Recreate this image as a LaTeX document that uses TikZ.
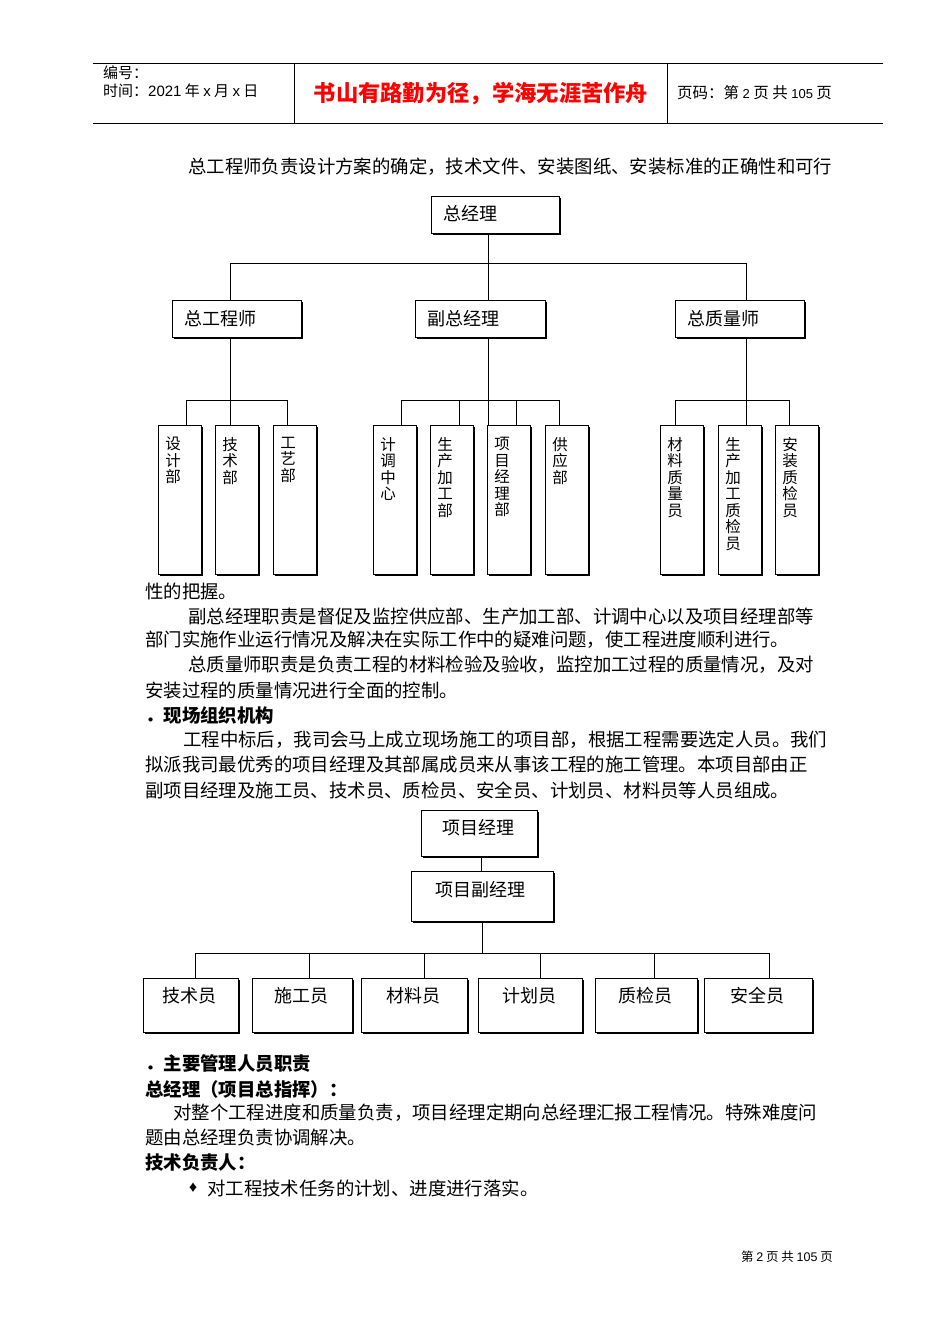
\documentclass[tikz,border=0pt]{standalone}
\usepackage{fontspec}
\setmainfont{Noto Sans CJK SC}
\newfontfamily\latinf{Liberation Sans}
\begin{document}
\begin{tikzpicture}[x=1pt,y=-1pt,
  txt/.style={anchor=west,inner sep=0,font=\fontsize{18.4}{20}\selectfont},
  btxt/.style={txt,font=\fontsize{18.4}{20}\selectfont\bfseries},
  lbl/.style={font=\fontsize{18}{20}\selectfont},
  vlbl/.style={font=\fontsize{15.5}{16.5}\selectfont,align=center,anchor=north,inner sep=0},
  ln/.style={line width=0.8pt}]
\useasboundingbox (0,0) rectangle (950,1344);
\newcommand{\obox}[5]{% name, x1,y1,x2,y2
  \draw[line width=1.4pt] (#2+1.5,#5+0.8) -- (#4+0.8,#5+0.8) -- (#4+0.8,#3+1.5);
  \draw[ln,fill=white] (#2,#3) rectangle (#4,#5);
  \coordinate (#1-n) at ({(#2+#4)/2},#3);
  \coordinate (#1-s) at ({(#2+#4)/2},#5);}
% header
\draw[line width=0.8pt] (93,63) -- (883,63) (93,123) -- (883,123) (294,63) -- (294,123) (667,63) -- (667,123);
\node[txt,font=\fontsize{15}{16}\selectfont] (h1) at (103,73) {编号：};
\node[txt,font=\fontsize{15}{16}\selectfont] (h2) at (103,91) {时间：{\latinf 2021} 年 {\latinf x} 月 {\latinf x} 日};
\node[inner sep=0,text=red,font=\fontsize{22.3}{23}\selectfont\bfseries] (h3) at (481,94) {书山有路勤为径，学海无涯苦作舟};
\node[txt,font=\fontsize{15.5}{16}\selectfont] (h4) at (677,93) {页码：第 {\latinf\fontsize{13}{14}\selectfont 2} 页 共 {\latinf\fontsize{13}{14}\selectfont 105} 页};
% text
\node[txt] (t1) at (188,167) {总工程师负责设计方案的确定，技术文件、安装图纸、安装标准的正确性和可行};
% chart 1
\draw[ln] (488,233) -- (488,263) (230,263) -- (746,263)
 (230,263) -- (230,300) (488,263) -- (488,300) (746,263) -- (746,300);
\draw[ln] (230,337) -- (230,425) (488,337) -- (488,425) (746,337) -- (746,425);
\draw[ln] (186,400) -- (287,400) (186,400) -- (186,425) (287,400) -- (287,425);
\draw[ln] (401,400) -- (559,400) (401,400) -- (401,425) (459,400) -- (459,425) (516,400) -- (516,425) (559,400) -- (559,425);
\draw[ln] (675,400) -- (789,400) (675,400) -- (675,425) (789,400) -- (789,425);
\obox{a}{431}{196}{559}{233}\node[txt,lbl] (na) at (443,214) {总经理};
\obox{b1}{172}{300}{301}{337}\node[txt,lbl] (nb1) at (184,319) {总工程师};
\obox{b2}{415}{300}{545}{337}\node[txt,lbl] (nb2) at (427,319) {副总经理};
\obox{b3}{675}{300}{804}{337}\node[txt,lbl] (nb3) at (687,319) {总质量师};
\foreach \x/\t in {158/设\\计\\部,215/技\\术\\部,273/工\\艺\\部,373/计\\调\\中\\心,430/生\\产\\加\\工\\部,487/项\\目\\经\\理\\部,545/供\\应\\部,660/材\\料\\质\\量\\员,718/生\\产\\加\\工\\质\\检\\员,775/安\\装\\质\\检\\员}{
  \obox{c\x}{\x}{425}{\x+43}{574}
  \node[vlbl] (v\x) at (\x+15,437) {\t};
}
% paragraphs
\node[txt] (p1) at (145,591) {性的把握。};
\node[txt] (p2) at (188,616) {副总经理职责是督促及监控供应部、生产加工部、计调中心以及项目经理部等};
\node[txt] (p3) at (145,640) {部门实施作业运行情况及解决在实际工作中的疑难问题，使工程进度顺利进行。};
\node[txt] (p4) at (188,665) {总质量师职责是负责工程的材料检验及验收，监控加工过程的质量情况，及对};
\node[txt] (p5) at (145,690) {安装过程的质量情况进行全面的控制。};
\node[btxt] (p6) at (145,715) {．现场组织机构};
\node[txt] (p7) at (183,740) {工程中标后，我司会马上成立现场施工的项目部，根据工程需要选定人员。我们};
\node[txt] (p8) at (145,765) {拟派我司最优秀的项目经理及其部属成员来从事该工程的施工管理。本项目部由正};
\node[txt] (p9) at (145,790) {副项目经理及施工员、技术员、质检员、安全员、计划员、材料员等人员组成。};
% chart 2
\draw[ln] (481,856) -- (481,871) (482,921) -- (482,953) (195,953) -- (769,953);
\foreach \x in {195,309,424,540,654,769} \draw[ln] (\x,953) -- (\x,978);
\obox{d1}{421}{810}{537}{856}\node[txt,lbl] (nd1) at (442,828) {项目经理};
\obox{d2}{411}{871}{553}{921}\node[txt,lbl] (nd2) at (435,890) {项目副经理};
\foreach \a/\b/\t in {143/238/技术员,252/352/施工员,361/467/材料员,478/582/计划员,595/697/质检员,704/812/安全员}{
  \obox{e\a}{\a}{978}{\b}{1032}
  \node[lbl,inner sep=0] (ne\a) at ({(\a+\b)/2-1},996) {\t};
}
% section
\node[btxt] (s1) at (145,1064) {．主要管理人员职责};
\node[btxt] (s2) at (145,1089) {总经理（项目总指挥）：};
\node[txt] (s3) at (173,1113) {对整个工程进度和质量负责，项目经理定期向总经理汇报工程情况。特殊难度问};
\node[txt] (s4) at (145,1138) {题由总经理负责协调解决。};
\node[btxt] (s5) at (145,1163) {技术负责人：};
\node[txt,font=\fontsize{10}{10}\selectfont] (s6) at (188,1188) {♦};
\node[txt] (s7) at (207,1188) {对工程技术任务的计划、进度进行落实。};
\node[anchor=east,inner sep=0,font=\fontsize{12.5}{13}\selectfont] (f) at (833,1257) {第 {\latinf 2} 页 共 {\latinf 105} 页};
\end{tikzpicture}
\end{document}
